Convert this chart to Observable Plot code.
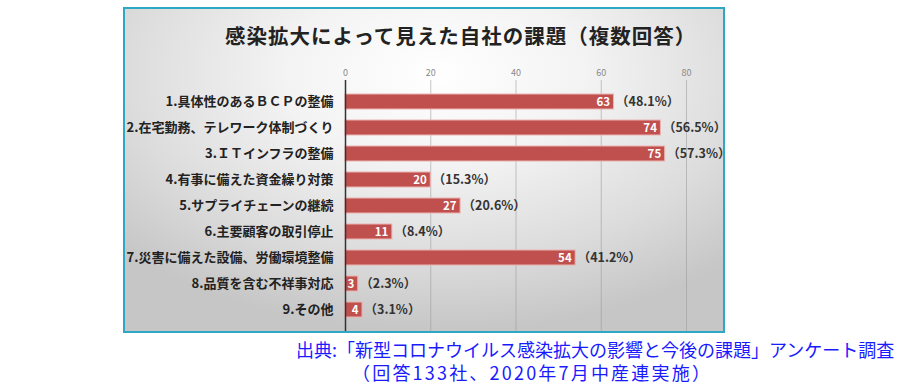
<!DOCTYPE html>
<html><head><meta charset="utf-8">
<script src="https://cdn.jsdelivr.net/npm/d3@7"></script>
<script src="https://cdn.jsdelivr.net/npm/@observablehq/plot@0.6"></script>
<style>
html,body{margin:0;padding:0;}
body{width:900px;height:388px;background:#fff;position:relative;overflow:hidden;font-family:"Noto Sans CJK JP","Noto Sans",sans-serif;}
#box{position:absolute;left:123px;top:7px;width:598px;height:322px;border:2px solid #2ea7c6;
 background:radial-gradient(ellipse 72% 80% at 52% 20%, #ffffff 0%, #f3f3f3 35%, #dcdcdc 72%, #c6c6c6 100%);}
#title{position:absolute;left:100px;top:14px;font-size:20.5px;line-height:24px;font-weight:bold;color:#222;letter-spacing:1px;white-space:nowrap;}
#chart{position:absolute;left:0;top:51px;width:615px;height:271px;}
#chart svg{max-width:none !important;}
.cap{position:absolute;color:#1a1aff;font-size:18px;line-height:20px;white-space:nowrap;}
#cap1{left:296px;top:339px;}
#cap2{left:352px;top:362px;letter-spacing:2.2px;}
</style>
</head><body>
<div id="box">
  <div id="title">感染拡大によって見えた自社の課題（複数回答）</div>
  <div id="chart"></div>
</div>
<div class="cap" id="cap1">出典:「新型コロナウイルス感染拡大の影響と今後の課題」アンケート調査</div>
<div class="cap" id="cap2">（回答133社、2020年7月中産連実施）</div>
<script>
const categories = [
  "1.具体性のあるＢＣＰの整備",
  "2.在宅勤務、テレワーク体制づくり",
  "3.ＩＴインフラの整備",
  "4.有事に備えた資金繰り対策",
  "5.サプライチェーンの継続",
  "6.主要顧客の取引停止",
  "7.災害に備えた設備、労働環境整備",
  "8.品質を含む不祥事対応",
  "9.その他"
];
const counts = [63, 74, 75, 20, 27, 11, 54, 3, 4];
const percents = ["48.1%", "56.5%", "57.3%", "15.3%", "20.6%", "8.4%", "41.2%", "2.3%", "3.1%"];
const xTicks = [0, 20, 40, 60, 80];

const data = categories.map((c, i) => ({category: c, count: counts[i], pct: percents[i]}));

const chart = Plot.plot({
  width: 615,
  height: 271,
  marginLeft: 220,
  marginRight: 54,
  marginTop: 20,
  marginBottom: 0,
  style: {background: "transparent", fontFamily: "'Noto Sans CJK JP', sans-serif", overflow: "visible", maxWidth: "none"},
  x: {domain: [0, 80]},
  y: {domain: categories, padding: 0.436},
  marks: [
    Plot.gridX({ticks: xTicks.filter(t => t > 0), stroke: "#999", strokeOpacity: 0.55}),
    Plot.axisX({anchor: "top", ticks: xTicks, tickSize: 0, tickPadding: 5, fontSize: 9, fill: "#8a8a8a", label: null}),
    Plot.axisY({tickSize: 0, tickPadding: 12, fontSize: 13, fontWeight: "bold", fill: "#222", label: null}),
    Plot.barX(data, {y: "category", x: "count", fill: "#c0504d", stroke: "#ecb4b2", strokeWidth: 1}),
    Plot.ruleX([0], {stroke: "#333", strokeWidth: 1.5}),
    Plot.text(data, {y: "category", x: "count", text: d => String(d.count), textAnchor: "end", dx: -4, fill: "#fff", fontWeight: "bold", fontSize: 11.5}),
    Plot.text(data, {y: "category", x: "count", text: d => `（${d.pct}）`, textAnchor: "start", dx: 2, fill: "#333", fontWeight: "bold", fontSize: 12.5})
  ]
});
document.getElementById("chart").appendChild(chart);
</script>
</body></html>
